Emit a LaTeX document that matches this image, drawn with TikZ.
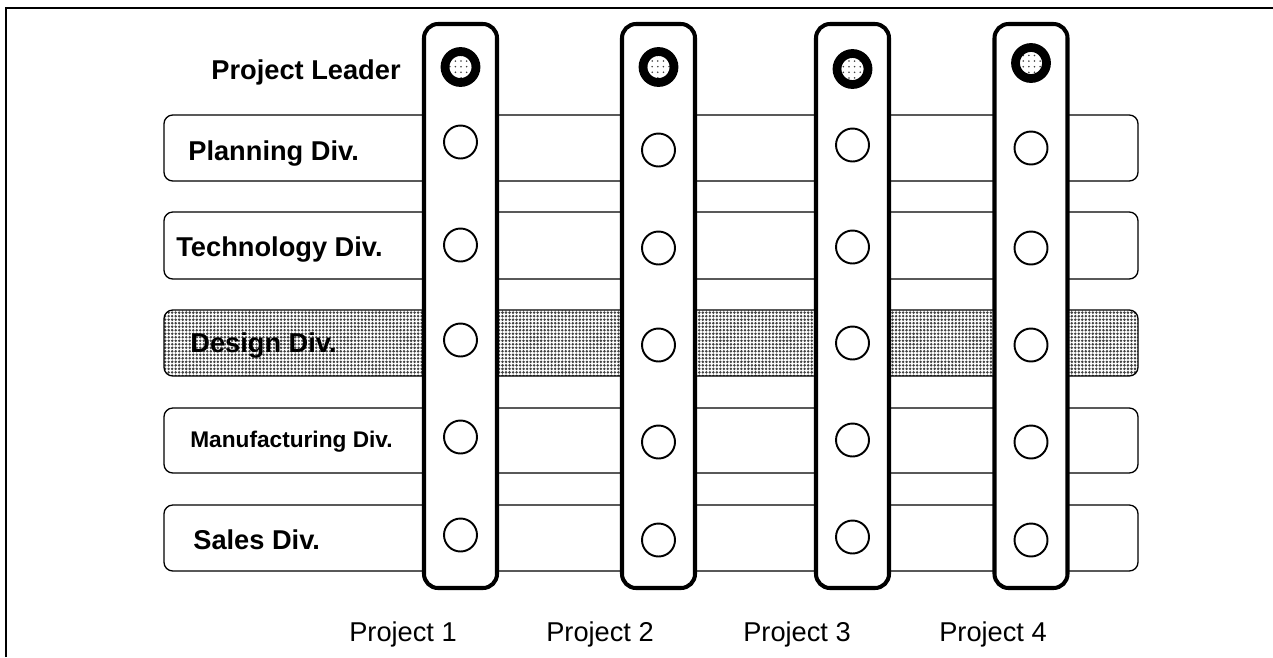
\documentclass[tikz,border=0pt]{standalone}
\usepackage{fontspec}
\setmainfont{Liberation Sans}
\usetikzlibrary{patterns.meta}

\begin{document}
\begin{tikzpicture}[x=0.02cm, y=-0.02cm,
  divbar/.style={draw, line width=0.75pt, rounded corners=5pt, fill=white},
  projcol/.style={draw, line width=2.3pt, rounded corners=8pt, fill=white},
  member/.style={circle, draw, line width=1.1pt, minimum size=0.66cm, inner sep=0pt},
  leader/.style={circle, draw, line width=5pt, minimum size=0.62cm, inner sep=0pt,
    pattern={Dots[distance=3.2pt, radius=0.5pt]}, pattern color=black!75},
  divlabel/.style={anchor=base west, font=\fontsize{15.5}{18}\selectfont\bfseries, inner sep=0pt},
  projlabel/.style={anchor=base, font=\fontsize{15.5}{18}\selectfont, inner sep=0pt}]
  \useasboundingbox (0,0) rectangle (1273,657);
  % frame
  \draw[line width=1.4pt] (6,657) |- (1273,8);
  % division bars
  \draw[divbar] (164,115) rectangle (1138,181);
  \draw[divbar] (164,212) rectangle (1138,279);
  \draw[divbar, pattern={Dots[distance=2pt, radius=0.8pt]}, pattern color=black!75]
    (164,310) rectangle (1138,376);
  \draw[divbar] (164,408) rectangle (1138,473);
  \draw[divbar] (164,505) rectangle (1138,571);
  \node[divlabel] (plan) at (188,160) {Planning Div.};
  \node[divlabel] (tech) at (176,256) {Technology Div.};
  \node[divlabel] (design) at (190,352) {Design Div.};
  \node[divlabel, font=\fontsize{12.9}{15}\selectfont\bfseries] (manu) at (190,447) {Manufacturing Div.};
  \node[divlabel] (sales) at (193,549) {Sales Div.};
  \node[divlabel, anchor=base east] (lead) at (401,79) {Project Leader};
  % project columns with leader and members
  \foreach \c/\x/\ly/\ys in {1/460.5/67/{142,245,340,437,535},
                             2/658.5/67/{150,248,345,442,540},
                             3/852.5/69/{145,247,343,440,537},
                             4/1031/63/{148,248,345,442,540}} {
    \draw[projcol] (\x-36.5,24) rectangle (\x+36.5,588);
    \node[leader] (pl\c) at (\x,\ly) {};
    \foreach \y [count=\r] in \ys
      \node[member] (m\c\r) at (\x,\y) {};
  }
  \node[projlabel] (p1) at (403,641) {Project 1};
  \node[projlabel] (p2) at (600,641) {Project 2};
  \node[projlabel] (p3) at (797,641) {Project 3};
  \node[projlabel] (p4) at (993,641) {Project 4};
\end{tikzpicture}
\end{document}
